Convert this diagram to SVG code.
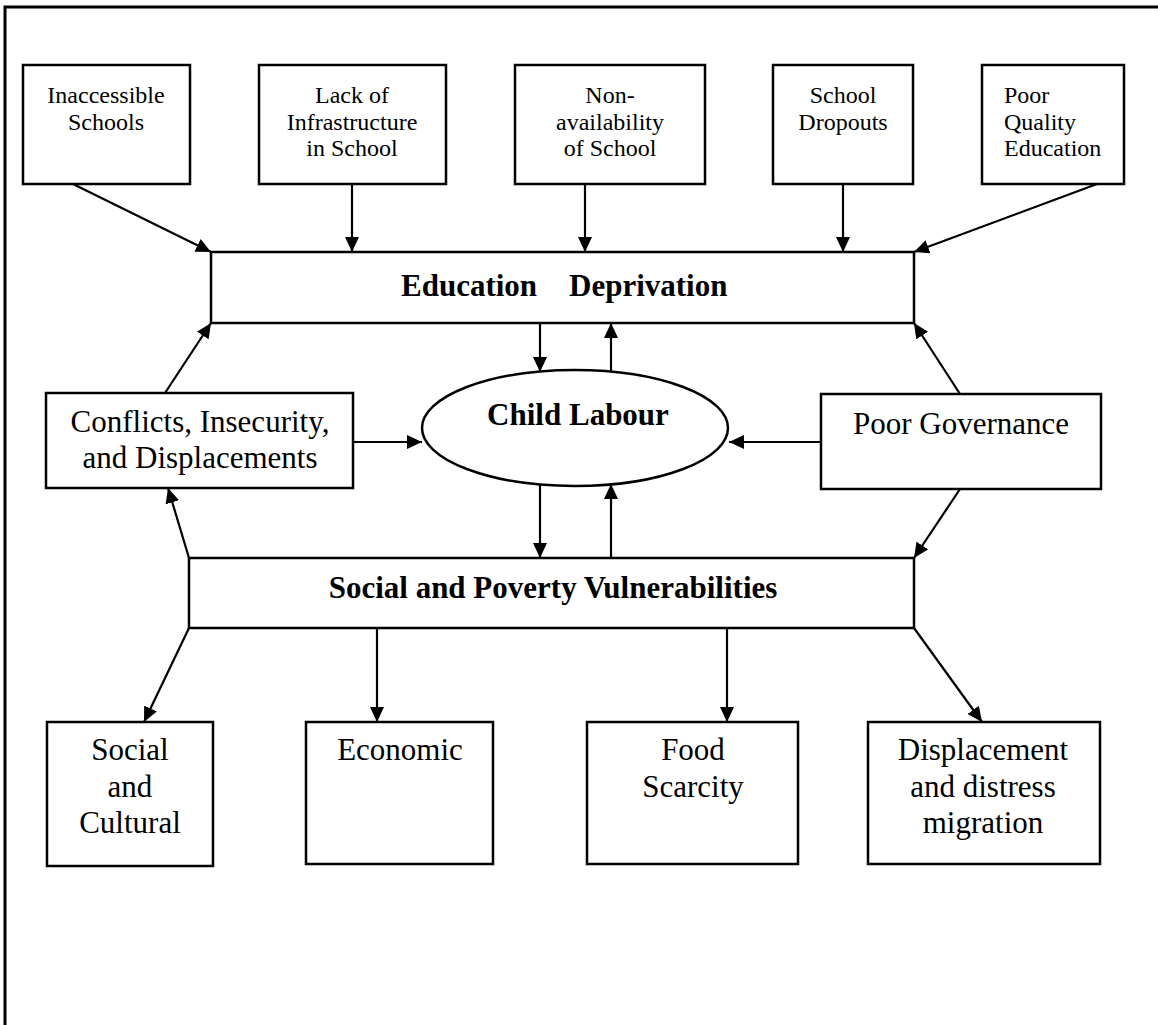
<svg xmlns="http://www.w3.org/2000/svg" width="1158" height="1025" viewBox="0 0 1158 1025">
<style>
.bx{fill:#fff;stroke:#000;stroke-width:2.5}
.t{font-family:"Liberation Serif","Times New Roman",serif;fill:#000}
.s{font-size:24px}
.m{font-size:31px}
.b{font-size:31px;font-weight:bold}
.c{stroke:#000;stroke-width:2.2;fill:none;marker-end:url(#ah)}
</style>
<defs>
<marker id="ah" markerUnits="userSpaceOnUse" markerWidth="16" markerHeight="14" refX="15" refY="7" orient="auto">
<path d="M0,0 L15,7 L0,14 z" fill="#000"/>
</marker>
</defs>
<rect width="1158" height="1025" fill="#fff"/>
<rect x="5" y="7" width="1160" height="1030" fill="none" stroke="#000" stroke-width="3"/>

<g id="connectors">
<line class="c" x1="73" y1="184" x2="211" y2="252"/>
<line class="c" x1="352" y1="184" x2="352" y2="252"/>
<line class="c" x1="585" y1="184" x2="585" y2="252"/>
<line class="c" x1="843" y1="184" x2="843" y2="252"/>
<line class="c" x1="1097" y1="184" x2="914" y2="252"/>
<line class="c" x1="540" y1="323" x2="540" y2="372"/>
<line class="c" x1="611" y1="372" x2="611" y2="323"/>
<line class="c" x1="165" y1="393" x2="211" y2="323"/>
<line class="c" x1="960" y1="394" x2="914" y2="323"/>
<line class="c" x1="353" y1="442" x2="422" y2="442"/>
<line class="c" x1="821" y1="442" x2="729" y2="442"/>
<line class="c" x1="540" y1="484" x2="540" y2="558"/>
<line class="c" x1="611" y1="558" x2="611" y2="484"/>
<line class="c" x1="189" y1="558" x2="168" y2="488"/>
<line class="c" x1="960" y1="489" x2="914" y2="558"/>
<line class="c" x1="189" y1="628" x2="144" y2="722"/>
<line class="c" x1="377" y1="628" x2="377" y2="722"/>
<line class="c" x1="727" y1="628" x2="727" y2="722"/>
<line class="c" x1="914" y1="628" x2="982" y2="722"/>
</g>

<g id="inaccessible">
<rect class="bx" x="23" y="65" width="167" height="119"/>
<text class="t s" text-anchor="middle" x="106" y="103">Inaccessible</text>
<text class="t s" text-anchor="middle" x="106" y="130">Schools</text>
</g>
<g id="infrastructure">
<rect class="bx" x="259" y="65" width="187" height="119"/>
<text class="t s" text-anchor="middle" x="352" y="103">Lack of</text>
<text class="t s" text-anchor="middle" x="352" y="130">Infrastructure</text>
<text class="t s" text-anchor="middle" x="352" y="156">in School</text>
</g>
<g id="nonavailability">
<rect class="bx" x="515" y="65" width="190" height="119"/>
<text class="t s" text-anchor="middle" x="610" y="103">Non-</text>
<text class="t s" text-anchor="middle" x="610" y="130">availability</text>
<text class="t s" text-anchor="middle" x="610" y="156">of School</text>
</g>
<g id="dropouts">
<rect class="bx" x="773" y="65" width="140" height="119"/>
<text class="t s" text-anchor="middle" x="843" y="103">School</text>
<text class="t s" text-anchor="middle" x="843" y="130">Dropouts</text>
</g>
<g id="quality">
<rect class="bx" x="982" y="65" width="142" height="119"/>
<text class="t s" x="1004" y="103">Poor</text>
<text class="t s" x="1004" y="130">Quality</text>
<text class="t s" x="1004" y="156">Education</text>
</g>

<g id="education">
<rect class="bx" x="211" y="252" width="703" height="71"/>
<text class="t b" y="296"><tspan x="401">Education</tspan><tspan x="569">Deprivation</tspan></text>
</g>

<g id="conflicts">
<rect class="bx" x="46" y="393" width="307" height="95"/>
<text class="t m" text-anchor="middle" x="200" y="432">Conflicts, Insecurity,</text>
<text class="t m" text-anchor="middle" x="200" y="468">and Displacements</text>
</g>

<g id="childlabour">
<ellipse cx="575" cy="428" rx="153" ry="58" fill="#fff" stroke="#000" stroke-width="2.5"/>
<text class="t b" text-anchor="middle" x="578" y="425">Child Labour</text>
</g>

<g id="governance">
<rect class="bx" x="821" y="394" width="280" height="95"/>
<text class="t m" text-anchor="middle" x="961" y="434">Poor Governance</text>
</g>

<g id="social-poverty">
<rect class="bx" x="189" y="558" width="725" height="70"/>
<text class="t b" text-anchor="middle" x="553" y="598">Social and Poverty Vulnerabilities</text>
</g>

<g id="social-cultural">
<rect class="bx" x="47" y="722" width="166" height="144"/>
<text class="t m" text-anchor="middle" x="130" y="760">Social</text>
<text class="t m" text-anchor="middle" x="130" y="797">and</text>
<text class="t m" text-anchor="middle" x="130" y="833">Cultural</text>
</g>
<g id="economic">
<rect class="bx" x="306" y="722" width="187" height="142"/>
<text class="t m" text-anchor="middle" x="400" y="760">Economic</text>
</g>
<g id="food">
<rect class="bx" x="587" y="722" width="211" height="142"/>
<text class="t m" text-anchor="middle" x="693" y="760">Food</text>
<text class="t m" text-anchor="middle" x="693" y="797">Scarcity</text>
</g>
<g id="displacement">
<rect class="bx" x="868" y="722" width="232" height="142"/>
<text class="t m" text-anchor="middle" x="983" y="760">Displacement</text>
<text class="t m" text-anchor="middle" x="983" y="797">and distress</text>
<text class="t m" text-anchor="middle" x="983" y="833">migration</text>
</g>
</svg>
